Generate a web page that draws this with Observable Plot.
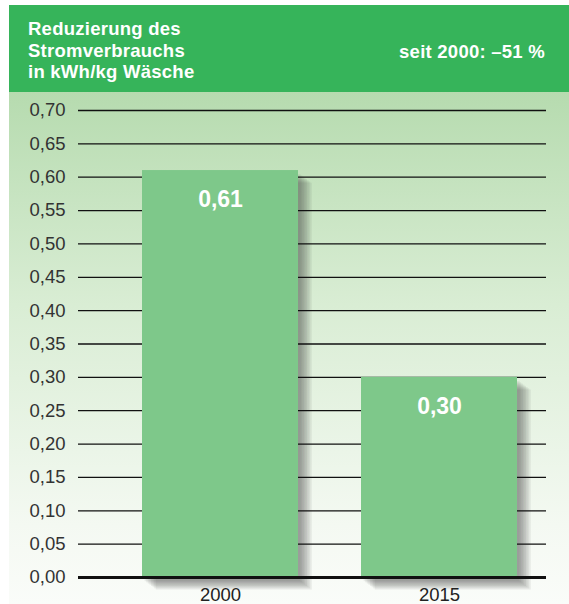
<!DOCTYPE html>
<html>
<head>
<meta charset="utf-8">
<script src="https://cdn.jsdelivr.net/npm/d3@7"></script>
<script src="https://cdn.jsdelivr.net/npm/@observablehq/plot@0.6"></script>
<style>
  html, body { margin: 0; padding: 0; background: #fff; }
  #wrap { position: relative; width: 569px; height: 604px; overflow: hidden; font-family: "Liberation Sans", Arial, Helvetica, sans-serif; }
  #panel { position: absolute; left: 9px; top: 5px; width: 560px; height: 599px;
    background: linear-gradient(to bottom, #b6dbaf 0px, #b6dbaf 87px, #d9edd4 300px, #f4f9f2 520px, #fafcf9 599px); }
  #header { position: absolute; left: 0; top: 0; width: 560px; height: 87px; background: #36b45a; color: #fff; font-weight: bold; font-size: 18.5px; letter-spacing: 0.25px; }
  #title { position: absolute; left: 19px; top: 13px; line-height: 21.5px; white-space: nowrap; }
  #note { position: absolute; right: 24px; top: 35.5px; line-height: 21.5px; white-space: nowrap; }
  #chart { position: absolute; left: 0; top: 92px; }
</style>
</head>
<body>
<div id="wrap">
  <div id="panel">
    <div id="header">
      <div id="title">Reduzierung des<br>Stromverbrauchs<br>in kWh/kg Wäsche</div>
      <div id="note">seit 2000: –51 %</div>
    </div>
  </div>
  <div id="chart"></div>
</div>
<script>
const years = ["2000", "2015"];
const values = [0.61, 0.30];
const yTicks = [0, 0.05, 0.10, 0.15, 0.20, 0.25, 0.30, 0.35, 0.40, 0.45, 0.50, 0.55, 0.60, 0.65, 0.70];

const data = years.map((y, i) => ({year: y, value: values[i]}));
const fmt = d => d.toFixed(2).replace(".", ",");

// soft shadow built from stacked translucent copies of the bars
const shadowLayers = d3.range(1, 9).map(k =>
  Plot.barY(data, {x: "year", y: "value", fill: "#3a3a3a", fillOpacity: 0.08, dx: 1 + k * 1.6, dy: 3 + k * 1.2})
);

const chart = Plot.plot({
  width: 569,
  height: 512,
  marginLeft: 78,
  marginRight: 23,
  marginTop: 18,
  marginBottom: 27,
  style: {background: "transparent", fontFamily: '"Liberation Sans", Arial, Helvetica, sans-serif', overflow: "visible"},
  x: {domain: years, range: [142, 517], paddingInner: 0.2877, paddingOuter: 0, label: null},
  y: {domain: [0, 0.70], label: null},
  marks: [
    ...shadowLayers,
    Plot.ruleY(yTicks.filter(d => d > 0), {stroke: "#111", strokeWidth: 1.3}),
    Plot.barY(data, {x: "year", y: "value", fill: "#7ec88a"}),
    Plot.ruleY([0], {stroke: "#111", strokeWidth: 3}),
    Plot.text(data, {x: "year", y: "value", text: d => fmt(d.value), dy: 29, fill: "#fff", fontSize: 23, fontWeight: "bold", lineAnchor: "middle"}),
    Plot.axisY({ticks: yTicks, tickFormat: fmt, tickSize: 0, tickPadding: 13, fontSize: 18.5, color: "#333", label: null}),
    Plot.axisX({tickSize: 0, tickPadding: 10, fontSize: 18.5, color: "#222", label: null})
  ]
});
document.getElementById("chart").appendChild(chart);
</script>
</body>
</html>
